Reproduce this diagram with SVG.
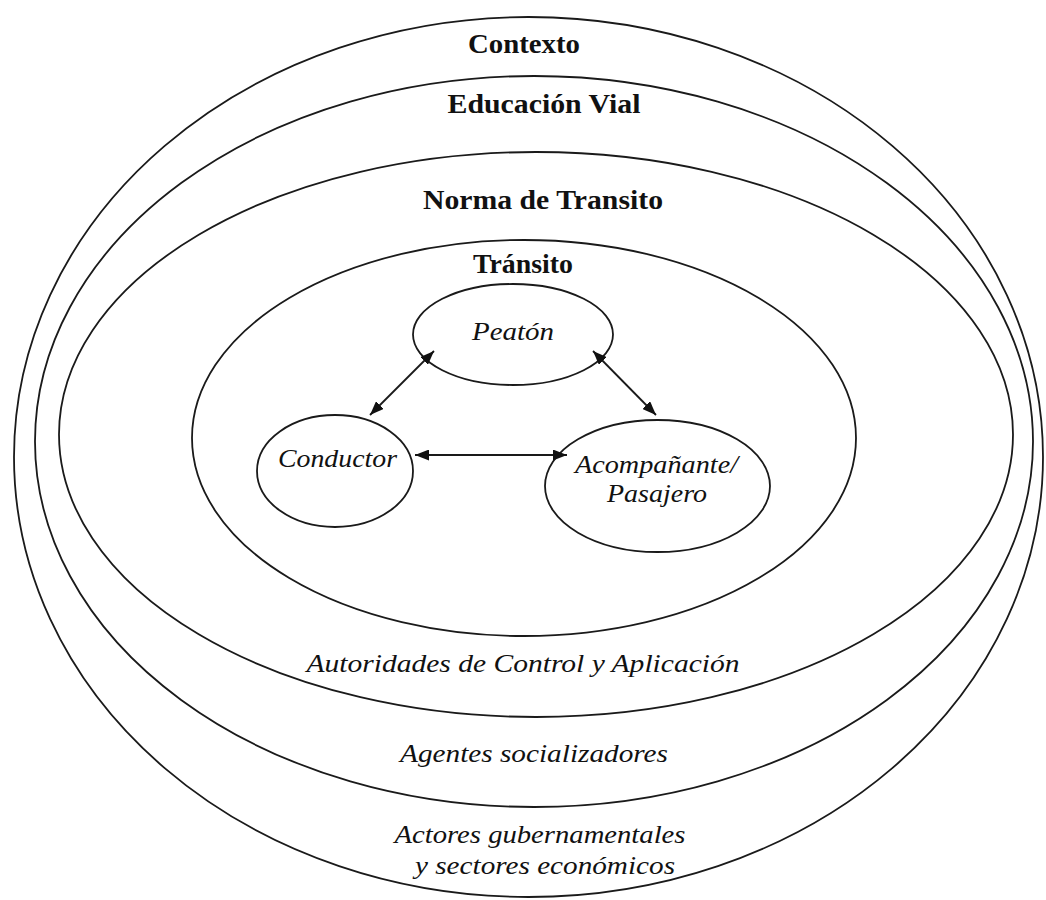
<svg xmlns="http://www.w3.org/2000/svg" width="1046" height="900" viewBox="0 0 1046 900">
<style>
.ring{fill:none;stroke:#1a1a1a;stroke-width:1.8}
.node{fill:#fff;stroke:#1a1a1a;stroke-width:1.8}
.b{font-family:"Liberation Serif",serif;font-weight:bold;font-size:27px;fill:#111;text-anchor:middle}
.i{font-family:"Liberation Serif",serif;font-style:italic;font-size:26px;fill:#111;text-anchor:middle}
.c{stroke:#1a1a1a;stroke-width:1.8;fill:none;marker-start:url(#ah);marker-end:url(#ah)}
</style>
<defs>
<marker id="ah" markerUnits="userSpaceOnUse" markerWidth="14" markerHeight="11" refX="14" refY="5.5" orient="auto-start-reverse">
<path d="M0,0 L14,5.5 L0,11 z" fill="#111"/>
</marker>
</defs>
<rect width="1046" height="900" fill="#fff"/>
<g id="contexto">
<ellipse class="ring" cx="528.5" cy="457" rx="514.5" ry="440"/>
<text class="b" x="524" y="53" textLength="112" lengthAdjust="spacingAndGlyphs">Contexto</text>
<text class="i" x="540" y="843" textLength="291" lengthAdjust="spacingAndGlyphs">Actores gubernamentales</text>
<text class="i" x="545" y="874" textLength="260" lengthAdjust="spacingAndGlyphs">y sectores  económicos</text>
</g>
<g id="educacion-vial">
<ellipse class="ring" cx="534" cy="441.5" rx="499" ry="365.5"/>
<text class="b" x="544" y="113" textLength="193" lengthAdjust="spacingAndGlyphs">Educación Vial</text>
<text class="i" x="534" y="762" textLength="268" lengthAdjust="spacingAndGlyphs">Agentes socializadores</text>
</g>
<g id="norma-transito">
<ellipse class="ring" cx="536" cy="434.5" rx="477" ry="282.5"/>
<text class="b" x="543" y="209" textLength="240" lengthAdjust="spacingAndGlyphs">Norma  de Transito</text>
<text class="i" x="523" y="672" textLength="433" lengthAdjust="spacingAndGlyphs">Autoridades  de Control y Aplicación</text>
</g>
<g id="transito">
<ellipse class="ring" cx="524" cy="438" rx="332" ry="198"/>
<text class="b" x="523" y="273" textLength="100" lengthAdjust="spacingAndGlyphs">Tránsito</text>
</g>
<g id="peaton">
<ellipse class="node" cx="513" cy="334.5" rx="100" ry="50.5"/>
<text class="i" x="513" y="340" textLength="82" lengthAdjust="spacingAndGlyphs">Peatón</text>
</g>
<g id="conductor">
<ellipse class="node" cx="335" cy="471" rx="78" ry="56"/>
<text class="i" x="337.5" y="467" textLength="119" lengthAdjust="spacingAndGlyphs">Conductor</text>
</g>
<g id="acompanante">
<ellipse class="node" cx="657.5" cy="486" rx="112.5" ry="66"/>
<text class="i" x="656.5" y="473" textLength="163" lengthAdjust="spacingAndGlyphs">Acompañante/</text>
<text class="i" x="657" y="502" textLength="100" lengthAdjust="spacingAndGlyphs">Pasajero</text>
</g>
<g id="connectors">
<line class="c" x1="434" y1="351" x2="370" y2="415"/>
<line class="c" x1="593" y1="351" x2="656" y2="415"/>
<line class="c" x1="415" y1="455" x2="567" y2="455"/>
</g>
</svg>
